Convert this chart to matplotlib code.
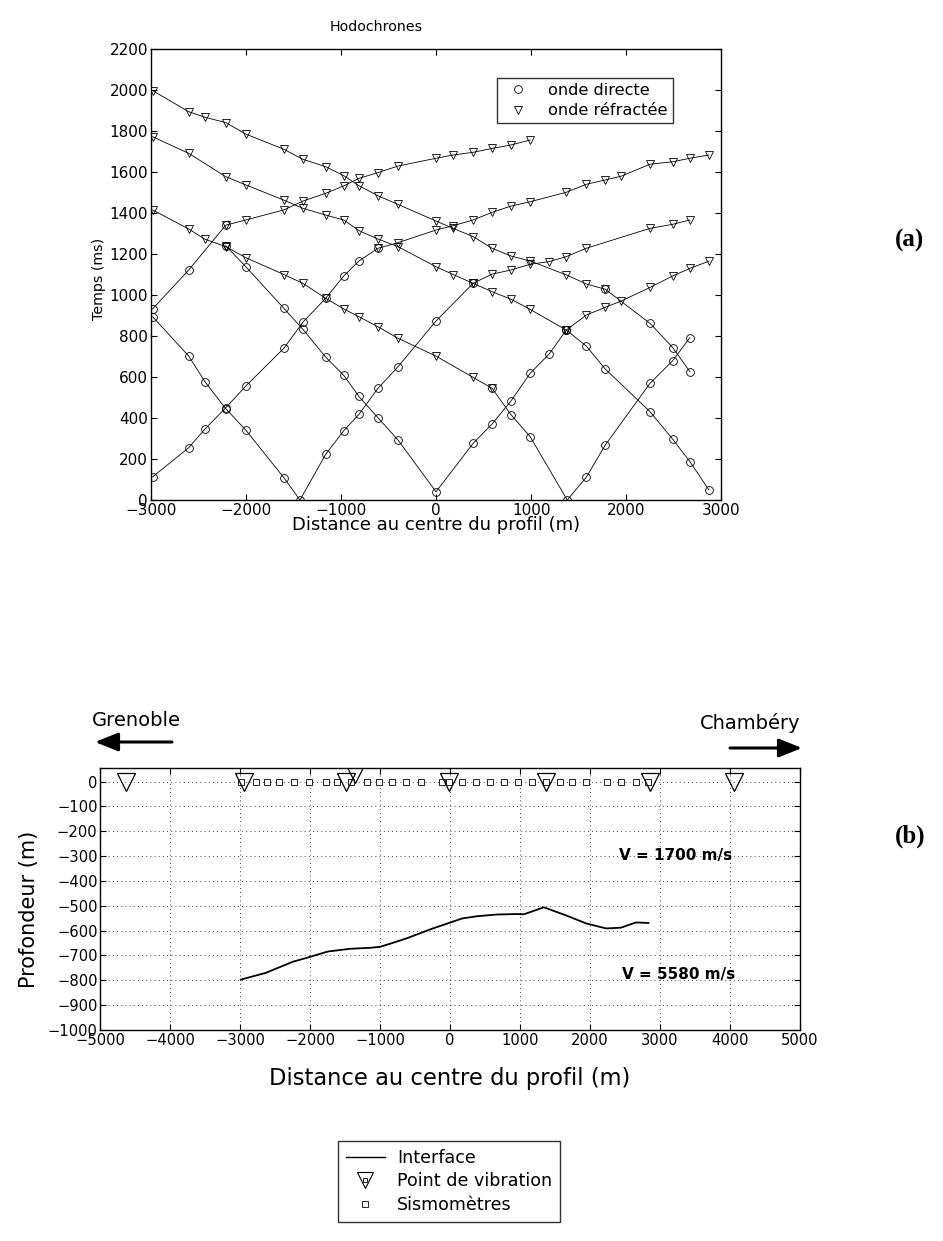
import matplotlib
matplotlib.use('Agg')
import matplotlib.pyplot as plt
from matplotlib.lines import Line2D
from matplotlib.legend_handler import HandlerTuple

# ---------------- data : hodochrones (top) ----------------
# shot W1 (west, off profile)
w1_x = [-2980, -2600, -2430, -2210, -2000, -1600, -1400, -1160, -970, -810, -610, -400, 0, 180, 390, 590, 790, 990, 1370, 1580, 1780, 1950, 2250, 2490, 2670, 2870]
w1_t = [113, 255, 346, 450, 556, 740, 867, 984, 1093, 1166, 1228, 1255, 1317, 1338, 1366, 1403, 1434, 1455, 1501, 1540, 1561, 1580, 1638, 1650, 1667, 1683]
w1_k = "ooooooooooBvvvvvvvvvvvvvvv"
# shot W2 (far west)
w2_x = [-2980, -2600, -2210, -2000, -1600, -1400, -1160, -970, -810, -610, -400, 0, 180, 390, 590, 790, 990]
w2_t = [932, 1122, 1341, 1366, 1415, 1458, 1496, 1532, 1569, 1597, 1629, 1667, 1683, 1696, 1715, 1732, 1756]
w2_k = "ooBvvvvvvvvvvvvvv"
# shot at -1430 m
s3_x = [-2980, -2600, -2430, -2210, -2000, -1600, -1430, -1160, -970, -810, -610, -400, 0, 390, 590, 790, 990, 1190, 1370, 1580, 2250, 2490, 2670]
s3_t = [894, 702, 577, 445, 341, 109, 0, 223, 338, 418, 545, 650, 873, 1057, 1102, 1122, 1150, 1163, 1187, 1228, 1325, 1345, 1366]
s3_k = "oooooooooooooBvvvvvvvvv"
# shot at 0 m
s4_x = [-2210, -2000, -1600, -1400, -1160, -970, -810, -610, -400, 0, 390, 590, 790, 990, 1190, 1370, 1580, 1780, 1950, 2250, 2490, 2670, 2870]
s4_t = [1240, 1138, 935, 833, 697, 608, 505, 401, 293, 40, 276, 371, 484, 618, 712, 829, 902, 940, 971, 1037, 1093, 1130, 1165]
s4_k = "BooooooooooooooBvvvvvvv"
# shot at 1380 m
s5_x = [-2980, -2600, -2430, -2210, -2000, -1600, -1400, -1160, -970, -810, -610, -400, 0, 390, 590, 790, 990, 1380, 1580, 1780, 2250, 2490, 2670]
s5_t = [1415, 1322, 1272, 1236, 1182, 1100, 1057, 984, 932, 894, 845, 789, 702, 598, 545, 415, 309, 0, 111, 268, 569, 680, 792]
s5_k = "vvvvvvvvvvvvvvBoooooooo"
# shot E1 (east, ~2900 m)
e1_x = [-2980, -2600, -2210, -2000, -1600, -1400, -1160, -970, -810, -610, -400, 0, 180, 390, 590, 790, 990, 1370, 1580, 1780, 2250, 2490, 2670, 2870]
e1_t = [1772, 1691, 1577, 1537, 1463, 1423, 1390, 1366, 1314, 1273, 1236, 1138, 1100, 1057, 1016, 979, 930, 829, 751, 639, 431, 296, 187, 49]
e1_k = "vvvvvvvvvvvvvvvvvBoooooo"
# shot E2 (far east)
e2_x = [-2980, -2600, -2430, -2210, -2000, -1600, -1400, -1160, -970, -810, -610, -400, 0, 180, 390, 590, 790, 990, 1370, 1580, 1780, 2250, 2490, 2670]
e2_t = [1997, 1894, 1867, 1841, 1785, 1711, 1662, 1626, 1582, 1533, 1484, 1442, 1361, 1325, 1285, 1228, 1190, 1166, 1098, 1054, 1028, 862, 743, 626]
e2_k = "vvvvvvvvvvvvvvvvvvvvBooo"

top_xticks = [-3000, -2000, -1000, 0, 1000, 2000, 3000]
top_yticks = [0, 200, 400, 600, 800, 1000, 1200, 1400, 1600, 1800, 2000, 2200]

# ---------------- data : profile (bottom) ----------------
interface_x = [-2990, -2634, -2244, -2030, -1746, -1427, -1141, -1000, -859, -609, -254, 30, 173, 386, 670, 954, 1059, 1344, 1666, 1950, 2234, 2447, 2660, 2839]
interface_z = [-797, -770, -725, -708, -684, -673, -669, -665, -653, -630, -592, -565, -551, -542, -535, -533, -534, -506, -539, -571, -591, -588, -567, -569]
vib_x = [-4630, -2940, -1490, -1360, -10, 1377, 2860, 4070]
vib_z = [0, 0, 0, 30, 0, 0, 0, 0]
sismo_x = [-2990, -2775, -2610, -2440, -2230, -2015, -1775, -1610, -1420, -1180, -1015, -825, -630, -415,
           -110, -20, 180, 370, 570, 775, 980, 1180, 1380, 1570, 1750, 1940, 2250, 2440, 2655, 2835]
sismo_z = [0] * len(sismo_x)
bot_xticks = list(range(-5000, 5001, 1000))
bot_yticks = list(range(-1000, 1, 100))

# ---------------- figure ----------------
W, H = 943, 1241
fig = plt.figure(figsize=(W / 100, H / 100), dpi=100)


def fx(px):
    return px / W


def fy(py):
    return 1 - py / H


LW = 0.6
# ---- top axes
T_L, T_R, T_T, T_B = 150.7, 721.3, 49, 500
ax1 = fig.add_axes([fx(T_L), fy(T_B), (T_R - T_L) / W, (T_B - T_T) / H])
shots = [(w1_x, w1_t, w1_k), (w2_x, w2_t, w2_k), (s3_x, s3_t, s3_k), (s4_x, s4_t, s4_k),
         (s5_x, s5_t, s5_k), (e1_x, e1_t, e1_k), (e2_x, e2_t, e2_k)]
for xs, ts, ks in shots:
    ax1.plot(xs, ts, '-', color='k', lw=LW, zorder=2)
    ox = [x for x, k in zip(xs, ks) if k in 'oB']
    ot = [t for t, k in zip(ts, ks) if k in 'oB']
    vx = [x for x, k in zip(xs, ks) if k in 'vB']
    vt = [t for t, k in zip(ts, ks) if k in 'vB']
    ax1.plot(ox, ot, ls='none', marker='o', ms=5.6, mfc='none', mec='k', mew=0.6, zorder=3)
    ax1.plot(vx, vt, ls='none', marker='v', ms=6.4, mfc='none', mec='k', mew=0.6, zorder=3)

ax1.set_xlim(-3000, 3000)
ax1.set_ylim(0, 2200)
ax1.set_xticks(top_xticks)
ax1.set_yticks(top_yticks)
ax1.tick_params(direction='in', length=4, width=0.8, top=True, right=True, labelsize=11, pad=2)
for s in ax1.spines.values():
    s.set_linewidth(1.0)
fig.text(fx(376), fy(27), 'Hodochrones', fontsize=10.2, ha='center', va='center')
ax1.set_xlabel('Distance au centre du profil (m)', fontsize=13)
ax1.set_ylabel('Temps (ms)', fontsize=10.2)
ax1.xaxis.set_label_coords(0.5, -(516 - T_B) / (T_B - T_T))
ax1.yaxis.set_label_coords(-(T_L - 106) / (T_R - T_L), 0.49)

h_dir = Line2D([], [], ls='none', marker='o', ms=5.6, mfc='none', mec='k', mew=0.6)
h_ref = Line2D([], [], ls='none', marker='v', ms=6.4, mfc='none', mec='k', mew=0.6)
leg1 = ax1.legend([h_dir, h_ref], ['onde directe', 'onde réfractée'], loc='upper left',
                  bbox_to_anchor=((496.7 - T_L) / (T_R - T_L), (T_B - 78.3) / (T_B - T_T)),
                  borderaxespad=0, fontsize=11.6, frameon=True, fancybox=False, edgecolor='k',
                  handlelength=2.0, handletextpad=0.9, labelspacing=0.32, borderpad=0.3)
leg1.get_frame().set_linewidth(1.0)

# ---- bottom axes
B_L, B_R, B_T, B_B = 100.3, 799.5, 768, 1030
ax2 = fig.add_axes([fx(B_L), fy(B_B), (B_R - B_L) / W, (B_B - B_T) / H])
ax2.plot(interface_x, interface_z, '-', color='k', lw=1.3, zorder=3)
ax2.plot(sismo_x, sismo_z, ls='none', marker='s', ms=4.8, mfc='white', mec='k', mew=0.6, zorder=3)
ax2.plot(vib_x, vib_z, ls='none', marker='v', ms=13.5, mfc='none', mec='k', mew=0.9, zorder=4)
ax2.set_xlim(-5000, 5000)
ax2.set_ylim(-1000, 55)
ax2.set_xticks(bot_xticks)
ax2.set_yticks(bot_yticks)
ax2.grid(True, ls=(0, (1, 4)), color='k', lw=0.6)
ax2.tick_params(direction='in', length=4, width=0.8, top=True, right=True, labelsize=10.6, pad=2)
for s in ax2.spines.values():
    s.set_linewidth(1.0)
ax2.set_xlabel('Distance au centre du profil (m)', fontsize=16.3)
ax2.set_ylabel('Profondeur (m)', fontsize=15)
ax2.xaxis.set_label_coords(0.5, -(1067 - B_B) / (B_B - B_T))
ax2.yaxis.set_label_coords(-(B_L - 39) / (B_R - B_L), (B_B - 909) / (B_B - B_T))
ax2.text(3230, -298, 'V = 1700 m/s', fontsize=11, fontweight='bold', ha='center', va='center')
ax2.text(3270, -775, 'V = 5580 m/s', fontsize=11, fontweight='bold', ha='center', va='center')

# arrows and place names
fig.text(fx(136), fy(721), 'Grenoble', fontsize=14, ha='center', va='center')
fig.text(fx(750), fy(723), 'Chambéry', fontsize=14, ha='center', va='center')
arrow_kw = dict(arrowstyle='-|>,head_length=0.7,head_width=0.28', lw=2.2, color='k',
                mutation_scale=20, shrinkA=0, shrinkB=0)
ax2.annotate('', xy=(95, H - 742), xytext=(172, H - 742), xycoords='figure pixels',
             textcoords='figure pixels', arrowprops=arrow_kw, annotation_clip=False)
ax2.annotate('', xy=(802, H - 748), xytext=(730, H - 748), xycoords='figure pixels',
             textcoords='figure pixels', arrowprops=arrow_kw, annotation_clip=False)

# panel letters
fig.text(fx(910), fy(240), '(a)', fontsize=18, fontweight='bold', family='Liberation Serif',
         ha='center', va='center')
fig.text(fx(910), fy(836), '(b)', fontsize=18, fontweight='bold', family='Liberation Serif',
         ha='center', va='center')

# bottom legend
hl_if = Line2D([], [], color='k', lw=1.0)
hl_tri = Line2D([], [], ls='none', marker='v', ms=11, mfc='none', mec='k', mew=0.8)
hl_sq_small = Line2D([], [], ls='none', marker='s', ms=3.2, mfc='none', mec='k', mew=0.6)
hl_sq = Line2D([], [], ls='none', marker='s', ms=4.2, mfc='none', mec='k', mew=0.6)
leg2 = fig.legend([hl_if, (hl_tri, hl_sq_small), hl_sq],
                  ['Interface', 'Point de vibration', 'Sismomètres'],
                  loc='upper left', bbox_to_anchor=(fx(338.3), fy(1141)), borderaxespad=0,
                  fontsize=12.6, frameon=True, fancybox=False, edgecolor='k', handlelength=2.2,
                  handletextpad=0.7, labelspacing=0.32, borderpad=0.45,
                  handler_map={tuple: HandlerTuple(ndivide=1, pad=0)})
leg2.get_frame().set_linewidth(1.0)

fig.savefig('out.png', dpi=100)
